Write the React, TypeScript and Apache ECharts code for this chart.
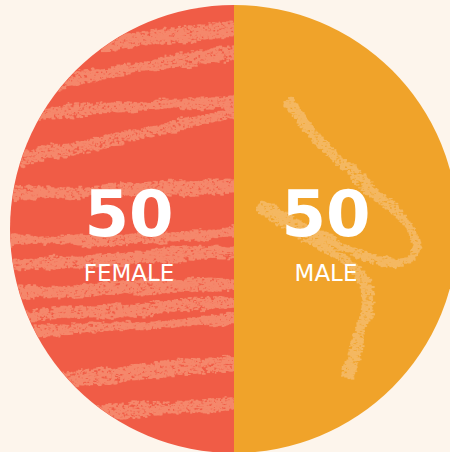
import React, { useEffect, useRef } from "react";
import * as echarts from "echarts";

const categories = ["FEMALE", "MALE"];
const values = [50, 50];

const BG = "#fdf5ec";
const FEMALE_BASE = "#f05c46";
const FEMALE_STROKE = "#f5886c";
const MALE_BASE = "#f0a32a";
const MALE_STROKE = "#f4b862";

const W = 450;
const H = 452;
const CX = 234;
const CY = 229;
const R = 224;

function makeRng(seed: number) {
  let s = seed >>> 0;
  return () => {
    s = (Math.imul(s, 1664525) + 1013904223) >>> 0;
    return s / 4294967296;
  };
}

function crayon(
  ctx: CanvasRenderingContext2D,
  pts: number[][],
  width: number,
  color: string,
  base: string,
  rand: () => number,
  minPressure: number
) {
  let hwTop = width / 2;
  let hwBot = width / 2;
  let pressure = 0.9;
  for (let i = 0; i < pts.length - 1; i++) {
    const [x0, y0] = pts[i];
    const [x1, y1] = pts[i + 1];
    const dx = x1 - x0;
    const dy = y1 - y0;
    const len = Math.hypot(dx, dy);
    const ux = dx / len;
    const uy = dy / len;
    const nx = -uy;
    const ny = ux;
    const steps = Math.ceil(len / 1.0);
    for (let s = 0; s < steps; s++) {
      const t = s / steps;
      const px = x0 + dx * t;
      const py = y0 + dy * t;
      hwTop += (rand() - 0.5) * 1.6;
      hwBot += (rand() - 0.5) * 1.6;
      hwTop = Math.max(width * 0.18, Math.min(width * 0.65, hwTop));
      hwBot = Math.max(width * 0.18, Math.min(width * 0.65, hwBot));
      pressure += (rand() - 0.5) * 0.12;
      pressure = Math.max(minPressure, Math.min(1, pressure));
      ctx.fillStyle = color;
      for (let k = 0; k < 12; k++) {
        const r = rand();
        const off = r < 0.5 ? -hwTop * (r * 2) : hwBot * ((r - 0.5) * 2);
        const edge = Math.abs(off) / (off < 0 ? hwTop : hwBot);
        if (rand() < (0.97 - edge * 0.35) * pressure) {
          ctx.fillRect(
            px + nx * off + (rand() - 0.5) * 2.5,
            py + ny * off + (rand() - 0.5) * 1.2,
            1.2 + rand() * 2.6,
            0.9 + rand() * 1.6
          );
        }
      }
      const holes = rand() < 0.45 ? 1 : 0;
      if (holes) {
        ctx.fillStyle = base;
        const off = (rand() * 2 - 1) * Math.min(hwTop, hwBot) * 0.9;
        ctx.fillRect(
          px + nx * off,
          py + ny * off,
          0.8 + rand() * 3.0,
          0.6 + rand() * 1.3
        );
      }
    }
  }
}

const femaleStripes: number[][][] = [
  [[100, 44], [160, 36], [240, 28]],
  [[40, 86], [120, 70], [240, 50]],
  [[30, 113], [140, 106], [240, 98]],
  [[10, 160], [120, 135], [240, 112]],
  [[5, 194], [120, 190], [240, 184]],
  [[5, 240], [120, 237], [240, 232]],
  [[5, 263], [120, 257], [240, 250]],
  [[5, 291], [120, 287], [240, 282]],
  [[15, 316], [120, 310], [240, 300]],
  [[25, 332], [120, 326], [240, 318]],
  [[50, 382], [140, 370], [240, 360]],
  [[90, 412], [160, 407], [240, 402]],
];
const femaleWidths = [14, 13, 13, 15, 14, 13, 13, 13, 12, 11, 14, 13];

const maleLoop: number[][] = [
  [286, 100], [300, 118], [322, 142], [345, 165], [368, 187], [392, 208],
  [408, 226], [416, 244], [410, 258], [395, 262], [372, 257], [340, 245],
  [305, 228], [275, 212], [258, 204], [270, 214], [300, 232], [330, 250],
  [352, 266], [364, 285], [366, 305], [360, 330], [352, 355], [345, 377],
];

function makeTexture() {
  const c = document.createElement("canvas");
  c.width = W * 2;
  c.height = H * 2;
  const ctx = c.getContext("2d") as CanvasRenderingContext2D;
  ctx.scale(2, 2);
  ctx.save();
  ctx.beginPath();
  ctx.arc(CX, CY, R - 0.5, Math.PI / 2, (Math.PI * 3) / 2);
  ctx.closePath();
  ctx.clip();
  const randF = makeRng(12345);
  femaleStripes.forEach((pts, i) =>
    crayon(ctx, pts, femaleWidths[i], FEMALE_STROKE, FEMALE_BASE, randF, 0.6)
  );
  ctx.restore();
  ctx.save();
  ctx.beginPath();
  ctx.arc(CX, CY, R - 0.5, -Math.PI / 2, Math.PI / 2);
  ctx.closePath();
  ctx.clip();
  const randM = makeRng(777);
  crayon(ctx, maleLoop, 11, MALE_STROKE, MALE_BASE, randM, 0.45);
  ctx.restore();
  return c.toDataURL("image/png");
}

export default function App() {
  const ref = useRef<HTMLDivElement>(null);

  useEffect(() => {
    if (!ref.current) return;
    const chart = echarts.init(ref.current, null, { renderer: "svg" });

    const tex = makeTexture();
    const paddings = [
      [18, 0, 0, 20],
      [18, 46, 0, 0],
    ];
    const data = categories.map((name, i) => ({ name, value: values[i] }));

    chart.setOption({
      animation: false,
      backgroundColor: BG,
      color: [FEMALE_BASE, MALE_BASE],
      graphic: {
        elements: [
          {
            type: "image",
            z: 2,
            silent: true,
            style: { image: tex, x: 0, y: 0, width: W, height: H },
          },
        ],
      },
      series: [
        {
          type: "pie",
          z: 1,
          center: [CX, CY],
          radius: [0, R],
          startAngle: 90,
          clockwise: false,
          silent: true,
          emphasis: { disabled: true },
          label: { show: false },
          labelLine: { show: false },
          itemStyle: { borderWidth: 0 },
          data,
        },
        {
          type: "pie",
          z: 3,
          center: [CX, CY],
          radius: [0, R],
          startAngle: 90,
          clockwise: false,
          silent: true,
          emphasis: { disabled: true },
          itemStyle: { color: "transparent", borderWidth: 0 },
          label: {
            show: true,
            position: "inside",
            color: "#ffffff",
            formatter: (p: any) => `{v|${p.value}}\n{n|${p.name}}`,
            rich: {
              v: {
                fontFamily: "DejaVu Sans",
                fontWeight: "bold",
                fontSize: 64,
                lineHeight: 70,
                color: "#ffffff",
                align: "center",
              },
              n: {
                fontFamily: "DejaVu Sans",
                fontWeight: "normal",
                fontSize: 23,
                lineHeight: 48,
                color: "#ffffff",
                align: "center",
              },
            },
          },
          labelLine: { show: false },
          data: data.map((d, i) => ({ ...d, label: { padding: paddings[i] } })),
        },
      ],
    });

    return () => chart.dispose();
  }, []);

  return (
    <div
      ref={ref}
      style={{ position: "fixed", left: 0, top: 0, width: W, height: H }}
    />
  );
}
